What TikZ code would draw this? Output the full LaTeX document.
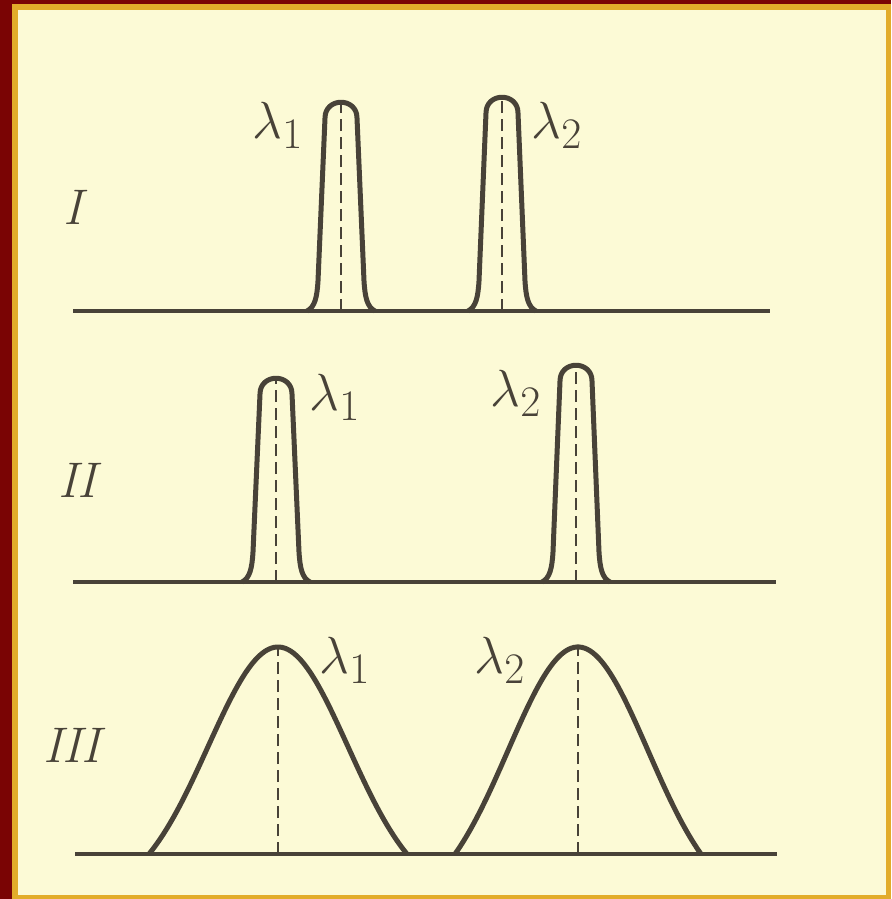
\documentclass[tikz,border=0pt]{standalone}
\usepackage{amsmath}
\definecolor{paper}{RGB}{252,250,214}
\definecolor{ink}{RGB}{72,66,56}
\definecolor{frameRed}{RGB}{122,4,4}
\definecolor{frameGold}{RGB}{226,172,42}
\tikzset{
  axis/.style={draw=ink,line width=3.5pt},
  peak/.style={draw=ink,line width=5pt,line join=round},
  guide/.style={draw=ink,line width=2.2pt,dash pattern=on 12pt off 6pt},
  lbl/.style={text=ink,inner sep=0pt,font=\Huge,scale=2.1},
  row/.style={text=ink,inner sep=0pt,font=\fontsize{50}{50}\selectfont\itshape}
}
% narrow line: centre, baseline, height
\newcommand{\narrowline}[3]{%
  \draw[peak] (#1-34,#2) .. controls (#1-26,#2-4) and (#1-24,#2-14) .. (#1-23,#2-30)
    -- (#1-16,#2-#3+16) .. controls (#1-16,#2-#3-5) and (#1+16,#2-#3-5) .. (#1+16,#2-#3+16)
    -- (#1+23,#2-30) .. controls (#1+24,#2-14) and (#1+26,#2-4) .. (#1+34,#2);
  \draw[guide] (#1,#2) -- (#1,#2-#3);
}
% wide line: centre, baseline, height, half base
\newcommand{\wideline}[4]{%
  \draw[peak] plot[domain=-#4:#4,samples=90,smooth]
    ({#1+\x},{#2-#3*(exp(-(\x/10)*(\x/10)/98)-exp(-(#4/10)*(#4/10)/98))/(1-exp(-(#4/10)*(#4/10)/98))});
  \draw[guide] (#1,#2) -- (#1,#2-#3);
}

\begin{document}
\begin{tikzpicture}[x=1pt,y=-1pt]
\useasboundingbox (0,0) rectangle (891,899);

% frame
\fill[frameRed] (0,0) rectangle (891,899);
\fill[frameGold] (12,4) rectangle (891,899);
\fill[paper] (18,10) rectangle (886,895);

% I
\node[row] (rowA) at (73,207) {I};
\coordinate (a0) at (73,311);
\coordinate (a1) at (770,311);
\draw[axis] (a0) -- (a1);
\narrowline{341}{311}{209}
\narrowline{502}{311}{214}
\node[lbl] (la1) at (278,125) {$\lambda_1$};
\node[lbl] (la2) at (557,125) {$\lambda_2$};

% II
\node[row] (rowB) at (77,480) {II};
\coordinate (b0) at (73,582);
\coordinate (b1) at (776,582);
\draw[axis] (b0) -- (b1);
\narrowline{276}{582}{204}
\narrowline{576}{582}{217}
\node[lbl] (lb1) at (335,397) {$\lambda_1$};
\node[lbl] (lb2) at (516,393) {$\lambda_2$};

% III
\node[row] (rowC) at (72,745) {III};
\coordinate (c0) at (75,854);
\coordinate (c1) at (777,854);
\draw[axis] (c0) -- (c1);
\wideline{278}{854}{207}{129}
\wideline{578}{854}{207}{123}
\node[lbl] (lc1) at (345,660) {$\lambda_1$};
\node[lbl] (lc2) at (500,660) {$\lambda_2$};

\end{tikzpicture}
\end{document}
